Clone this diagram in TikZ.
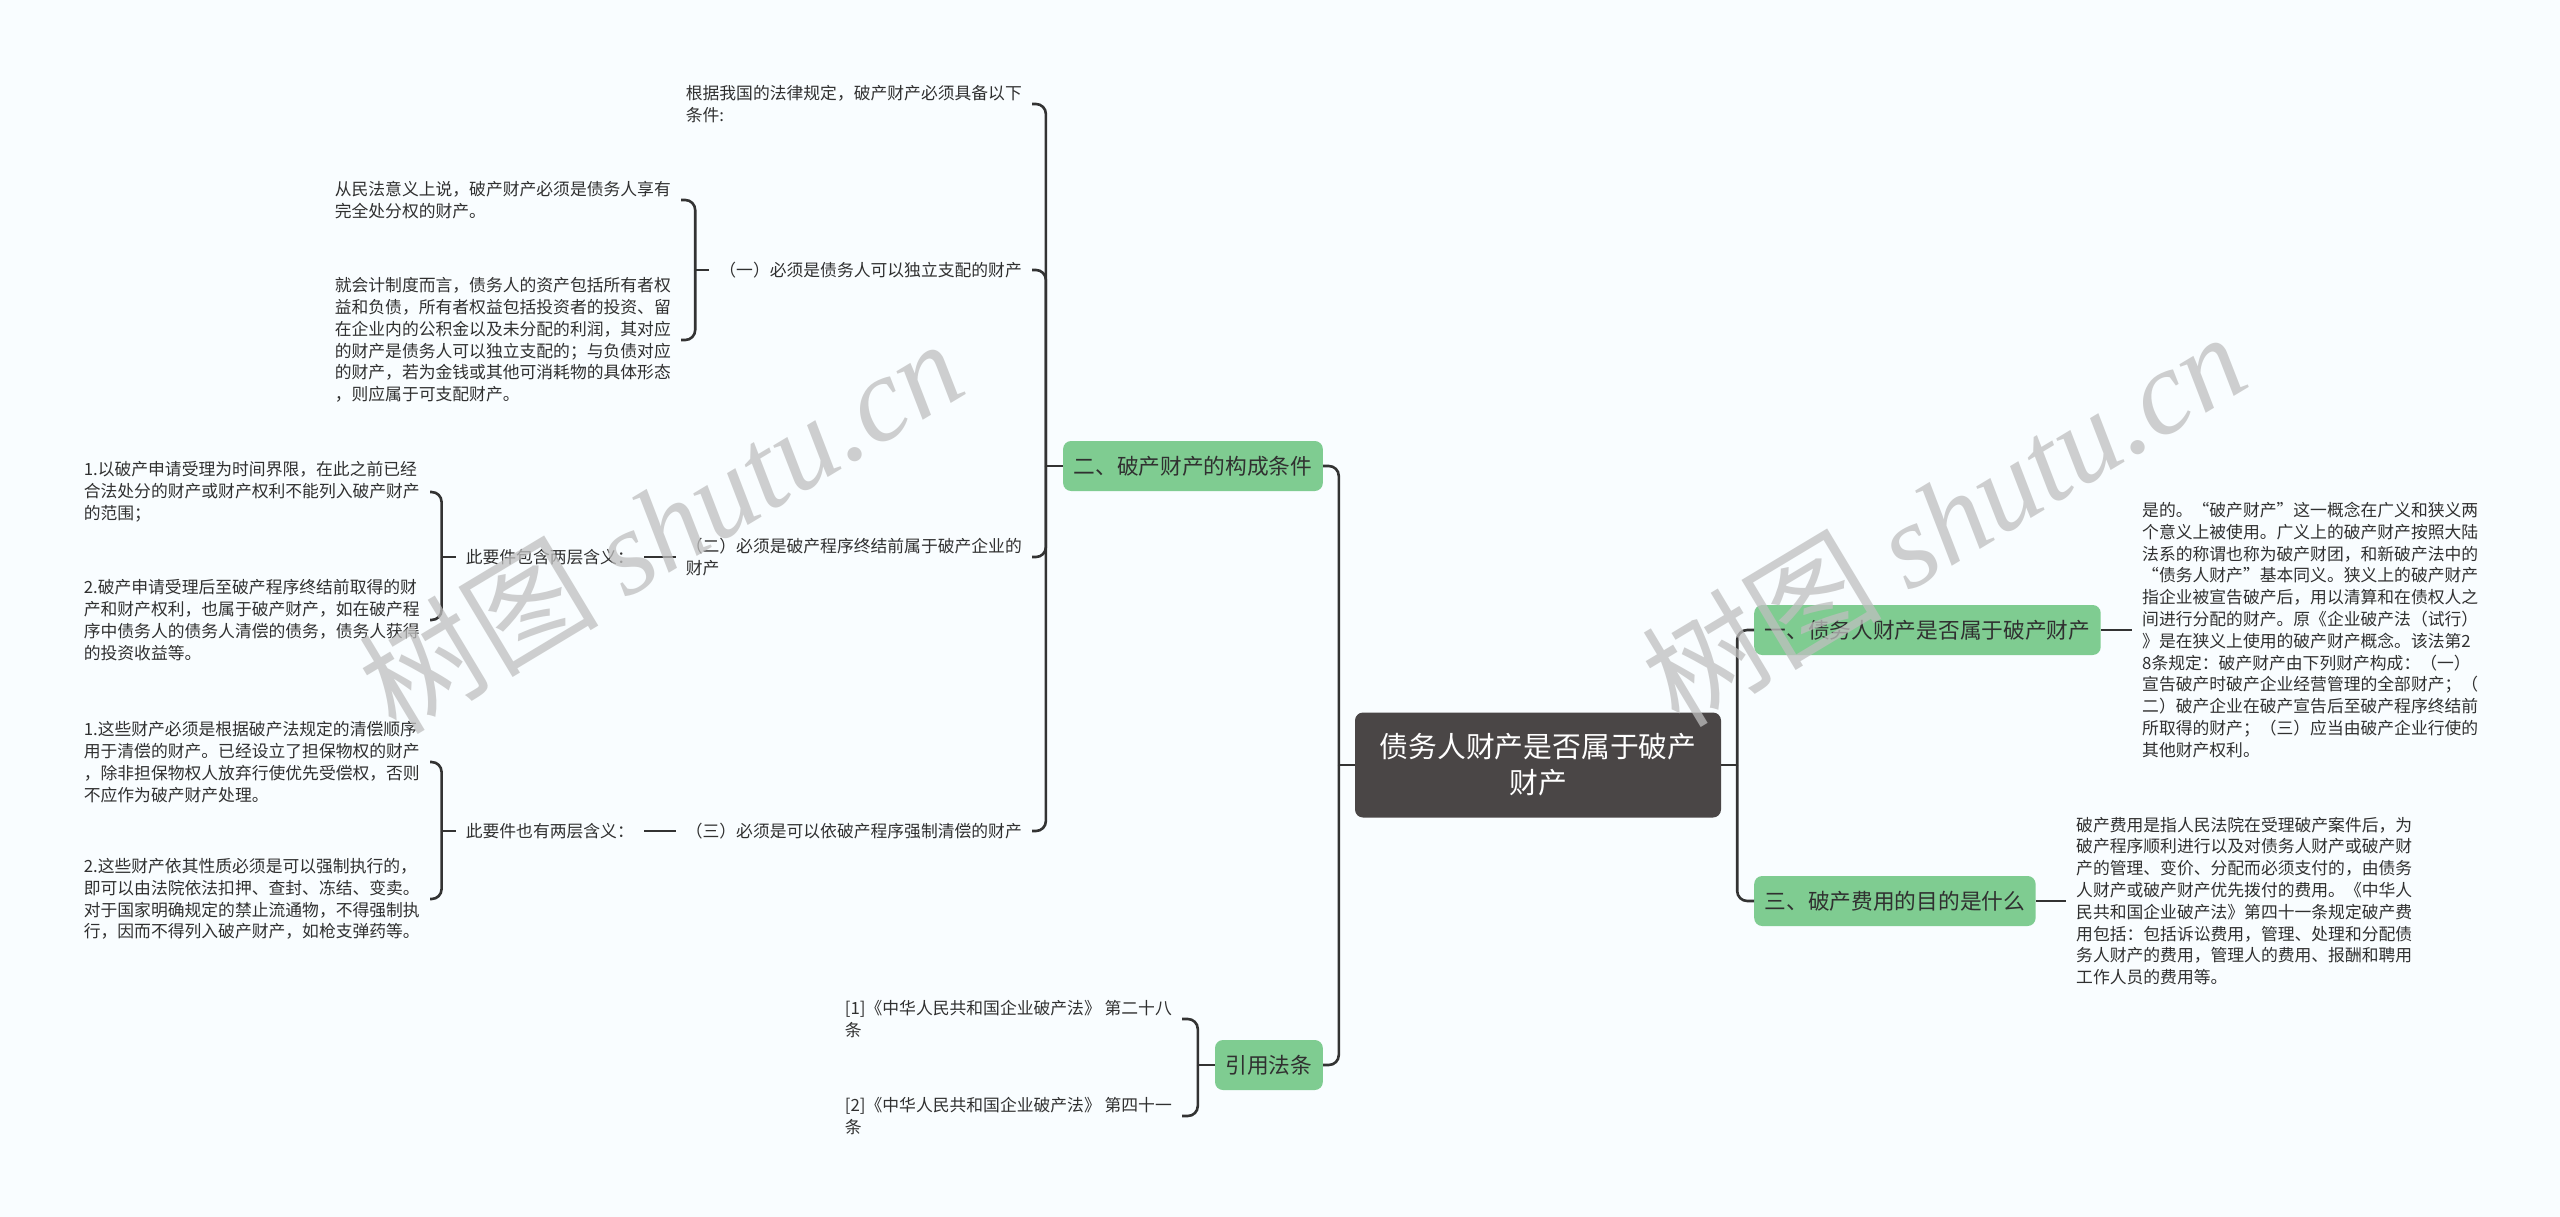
\documentclass[tikz,border=0pt]{standalone}
\usepackage{fontspec}
\setmainfont{Noto Sans CJK SC}
\newfontfamily\wmlatin{Liberation Serif}
\definecolor{paper}{RGB}{249,253,255}
\definecolor{rootgray}{RGB}{74,70,70}
\definecolor{leafgreen}{RGB}{127,204,145}
\definecolor{ink}{RGB}{48,48,48}
\definecolor{wire}{RGB}{51,51,51}
\tikzset{
  root/.style={fill=rootgray,text=white,rounded corners=8pt,minimum width=366pt,
    minimum height=105pt,align=center,font=\fontsize{28.8}{36}\selectfont},
  topic/.style={fill=leafgreen,text=ink,rounded corners=8pt,minimum height=50pt,
    inner xsep=10.5pt,font=\fontsize{21.7}{26}\selectfont},
  leaf/.style={text=ink,align=left,inner xsep=10pt,inner ysep=2pt,
    font=\fontsize{16.8}{21.8}\selectfont},
  branch/.style={draw=wire,line width=2.6pt},
  wm/.style={text=black!25,opacity=0.75,rotate=31,font=\fontsize{120}{120}\selectfont},
}
\begin{document}
\begin{tikzpicture}[x=1pt,y=-1pt]
  \fill[paper] (0,0) rectangle (2560,1217);
  \useasboundingbox (0,0) rectangle (2560,1217);
  % centre and main topics
  \node[root] (root) at (1538,765) {债务人财产是否属于破产\\财产};
  \node[topic,anchor=east] (cond) at (1323,466) {二、破产财产的构成条件};
  \node[topic,anchor=east] (laws) at (1323,1065) {引用法条};
  \node[topic,anchor=west] (isprop) at (1754,630) {一、债务人财产是否属于破产财产};
  \node[topic,anchor=west] (costs) at (1754,901) {三、破产费用的目的是什么};
  % right side texts
  \node[leaf,anchor=west] (isprop-t) at (2132,630) {是的。“破产财产”这一概念在广义和狭义两\\个意义上被使用。广义上的破产财产按照大陆\\法系的称谓也称为破产财团，和新破产法中的\\“债务人财产”基本同义。狭义上的破产财产\\指企业被宣告破产后，用以清算和在债权人之\\间进行分配的财产。原《企业破产法（试行）\\》是在狭义上使用的破产财产概念。该法第2\\8条规定：破产财产由下列财产构成：（一）\\宣告破产时破产企业经营管理的全部财产；（\\二）破产企业在破产宣告后至破产程序终结前\\所取得的财产；（三）应当由破产企业行使的\\其他财产权利。};
  \node[leaf,anchor=west] (costs-t) at (2066,901) {破产费用是指人民法院在受理破产案件后，为\\破产程序顺利进行以及对债务人财产或破产财\\产的管理、变价、分配而必须支付的，由债务\\人财产或破产财产优先拨付的费用。《中华人\\民共和国企业破产法》第四十一条规定破产费\\用包括：包括诉讼费用，管理、处理和分配债\\务人财产的费用，管理人的费用、报酬和聘用\\工作人员的费用等。};
  % left side: conditions
  \node[leaf,anchor=east] (basis) at (1032,104) {根据我国的法律规定，破产财产必须具备以下\\条件:};
  \node[leaf,anchor=east] (req1) at (1032,270) {（一）必须是债务人可以独立支配的财产};
  \node[leaf,anchor=east] (req2) at (1032,557) {（二）必须是破产程序终结前属于破产企业的\\财产};
  \node[leaf,anchor=east] (req3) at (1032,831) {（三）必须是可以依破产程序强制清偿的财产};
  \node[leaf,anchor=east] (req1a) at (681,200) {从民法意义上说，破产财产必须是债务人享有\\完全处分权的财产。};
  \node[leaf,anchor=east] (req1b) at (681,340) {就会计制度而言，债务人的资产包括所有者权\\益和负债，所有者权益包括投资者的投资、留\\在企业内的公积金以及未分配的利润，其对应\\的财产是债务人可以独立支配的；与负债对应\\的财产，若为金钱或其他可消耗物的具体形态\\，则应属于可支配财产。};
  \node[leaf,anchor=east] (req2m) at (644,557) {此要件包含两层含义：};
  \node[leaf,anchor=east] (req2a) at (430,492) {1.以破产申请受理为时间界限，在此之前已经\\合法处分的财产或财产权利不能列入破产财产\\的范围；};
  \node[leaf,anchor=east] (req2b) at (430,620) {2.破产申请受理后至破产程序终结前取得的财\\产和财产权利，也属于破产财产，如在破产程\\序中债务人的债务人清偿的债务，债务人获得\\的投资收益等。};
  \node[leaf,anchor=east] (req3m) at (644,831) {此要件也有两层含义：};
  \node[leaf,anchor=east] (req3a) at (430,762) {1.这些财产必须是根据破产法规定的清偿顺序\\用于清偿的财产。已经设立了担保物权的财产\\，除非担保物权人放弃行使优先受偿权，否则\\不应作为破产财产处理。};
  \node[leaf,anchor=east] (req3b) at (430,899) {2.这些财产依其性质必须是可以强制执行的，\\即可以由法院依法扣押、查封、冻结、变卖。\\对于国家明确规定的禁止流通物，不得强制执\\行，因而不得列入破产财产，如枪支弹药等。};
  % left side: cited articles
  \node[leaf,anchor=east] (law1) at (1182,1019) {[1]《中华人民共和国企业破产法》 第二十八\\条};
  \node[leaf,anchor=east] (law2) at (1182,1116) {[2]《中华人民共和国企业破产法》 第四十一\\条};
  % connectors
  \coordinate (jl) at ([xshift=-16pt]root.west);
  \coordinate (jr) at ([xshift=16pt]root.east);
  \coordinate (jcond) at ([xshift=-17pt]cond.west);
  \coordinate (jlaws) at ([xshift=-17pt]laws.west);
  \coordinate (jreq1) at ([xshift=-14pt]req1.west);
  \coordinate (jreq2) at ([xshift=-14pt]req2m.west);
  \coordinate (jreq3) at ([xshift=-14pt]req3m.west);
  \draw[branch] (root.west) -- (jl);
  \draw[branch] (root.east) -- (jr);
  \draw[branch] (cond.west) -- (jcond);
  \draw[branch] (laws.west) -- (jlaws);
  \draw[branch] (req1.west) -- (jreq1);
  \draw[branch] (req2m.west) -- (jreq2);
  \draw[branch] (req3m.west) -- (jreq3);
  \foreach \t in {cond,laws} \draw[branch,rounded corners=10pt] (jl) |- (\t.east);
  \foreach \t in {isprop,costs} \draw[branch,rounded corners=10pt] (jr) |- (\t.west);
  \foreach \t in {basis,req1,req2,req3} \draw[branch,rounded corners=10pt] (jcond) |- (\t.east);
  \foreach \t in {law1,law2} \draw[branch,rounded corners=10pt] (jlaws) |- (\t.east);
  \foreach \t in {req1a,req1b} \draw[branch,rounded corners=10pt] (jreq1) |- (\t.east);
  \foreach \t in {req2a,req2b} \draw[branch,rounded corners=10pt] (jreq2) |- (\t.east);
  \foreach \t in {req3a,req3b} \draw[branch,rounded corners=10pt] (jreq3) |- (\t.east);
  \draw[branch] (isprop.east) -- (isprop-t.west);
  \draw[branch] (costs.east) -- (costs-t.west);
  \draw[branch] (req2.west) -- (req2m.east);
  \draw[branch] (req3.west) -- (req3m.east);
  % watermark
  \node[wm] (wm1) at (660,525) {树图 {\wmlatin\itshape shutu.cn}};
  \node[wm] (wm2) at (1943,518) {树图 {\wmlatin\itshape shutu.cn}};
\end{tikzpicture}
\end{document}
